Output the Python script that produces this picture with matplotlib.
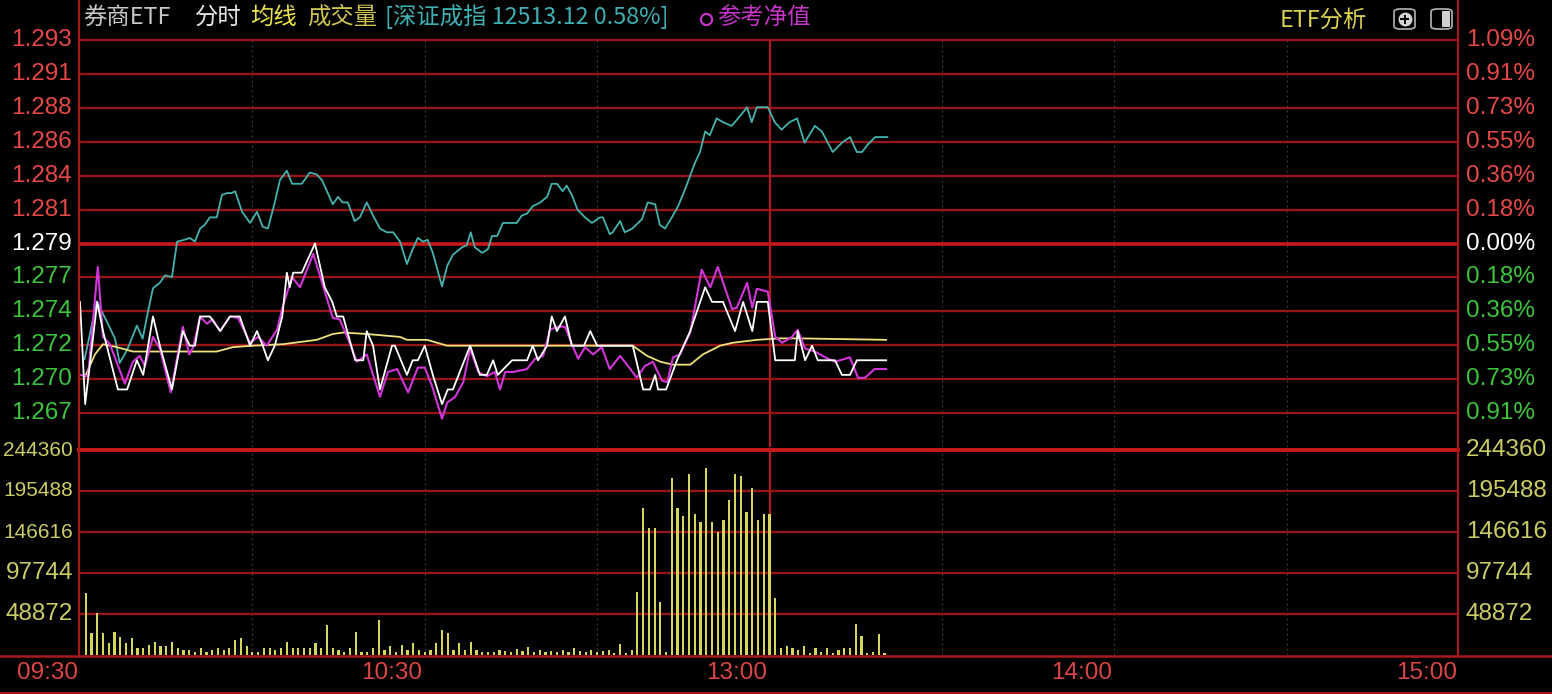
import matplotlib
matplotlib.use("Agg")
import matplotlib.pyplot as plt
from matplotlib.lines import Line2D
from matplotlib.patches import FancyBboxPatch, Rectangle
import matplotlib.transforms as mtrans

# ---------------- data ----------------
prev_close = 1.279
pct_max = 1.09

price_labels = ['1.293', '1.291', '1.288', '1.286', '1.284', '1.281', '1.279',
                '1.277', '1.274', '1.272', '1.270', '1.267']
pct_labels = ['1.09%', '0.91%', '0.73%', '0.55%', '0.36%', '0.18%', '0.00%',
              '0.18%', '0.36%', '0.55%', '0.73%', '0.91%']
vol_ticks = [244360, 195488, 146616, 97744, 48872]
vol_labels = ['244360', '195488', '146616', '97744', '48872']
time_ticks = [0, 60, 120, 180, 240]
time_labels = ['09:30', '10:30', '13:00', '14:00', '15:00']

# Shenzhen component index, % change (minute, pct)
index_points = [(0.8, -0.62), (2.9, -0.31), (4.7, -0.42), (6.1, -0.51), (6.9, -0.64), (8.2, -0.57),
    (9.9, -0.44), (10.9, -0.51), (11.8, -0.37), (12.7, -0.24), (13.9, -0.21), (14.8, -0.17),
    (16.0, -0.18), (16.9, 0.01), (18.2, 0.02), (19.1, 0.03), (20.0, 0.01), (20.9, 0.08),
    (21.7, 0.10), (22.6, 0.14), (23.8, 0.14), (24.7, 0.26), (25.6, 0.27), (26.4, 0.27),
    (27.0, 0.28), (28.2, 0.17), (29.6, 0.11), (30.8, 0.17), (31.8, 0.09), (32.7, 0.08),
    (33.9, 0.22), (34.8, 0.34), (36.0, 0.39), (36.9, 0.32), (38.6, 0.32), (40.0, 0.38),
    (41.2, 0.37), (42.1, 0.34), (44.0, 0.21), (44.9, 0.25), (45.7, 0.22), (46.6, 0.22),
    (47.8, 0.12), (48.7, 0.14), (49.9, 0.22), (51.0, 0.15), (52.2, 0.08), (53.4, 0.06),
    (54.5, 0.06), (55.7, 0.01), (56.9, -0.11), (57.9, -0.03), (58.8, 0.03), (59.7, 0.01),
    (60.5, 0.02), (61.4, -0.05), (63.0, -0.23), (63.9, -0.12), (64.9, -0.06), (66.5, -0.02),
    (67.3, -0.01), (68.0, 0.06), (68.7, -0.02), (70.0, -0.05), (71.0, -0.03), (71.7, 0.04),
    (72.6, 0.04), (73.6, 0.11), (76.0, 0.11), (76.9, 0.15), (77.8, 0.16), (78.8, 0.20),
    (80.1, 0.22), (81.3, 0.25), (82.1, 0.32), (83.0, 0.32), (84.0, 0.28), (84.7, 0.31),
    (85.6, 0.26), (86.6, 0.18), (87.9, 0.14), (89.1, 0.11), (90.5, 0.14), (91.0, 0.14),
    (92.2, 0.05), (92.7, 0.06), (94.0, 0.12), (94.8, 0.06), (96.1, 0.08), (97.8, 0.13),
    (98.8, 0.22), (100.1, 0.21), (100.9, 0.10), (101.8, 0.08), (103.0, 0.14), (104.1, 0.20),
    (105.3, 0.29), (107.0, 0.43), (107.9, 0.49), (108.8, 0.60), (109.6, 0.58), (110.8, 0.67),
    (111.9, 0.65), (113.4, 0.63), (114.8, 0.68), (116.1, 0.73), (116.9, 0.65), (117.8, 0.73),
    (119.2, 0.73), (119.7, 0.73), (120.9, 0.65), (122.1, 0.61), (123.5, 0.65), (124.8, 0.67),
    (126.1, 0.54), (127.9, 0.63), (129.1, 0.60), (131.0, 0.49), (132.6, 0.54), (134.0, 0.57),
    (135.2, 0.49), (136.1, 0.49), (137.1, 0.53), (138.4, 0.57), (139.6, 0.57), (140.5, 0.57)]

# ETF last price (minute, price)
price_points = [(0.0, 1.275), (0.9, 1.268), (3.0, 1.275), (4.0, 1.273), (6.6, 1.269), (8.2, 1.269),
    (9.9, 1.271), (11.0, 1.270), (12.7, 1.274), (13.9, 1.272), (16.0, 1.269), (17.9, 1.273),
    (19.1, 1.272), (20.0, 1.272), (20.9, 1.274), (22.6, 1.274), (24.4, 1.273), (26.1, 1.274),
    (27.8, 1.274), (29.6, 1.272), (30.8, 1.273), (31.8, 1.272), (32.7, 1.271), (33.9, 1.272),
    (35.2, 1.274), (36.0, 1.277), (36.5, 1.276), (37.1, 1.277), (38.6, 1.277), (40.9, 1.279),
    (42.6, 1.276), (43.9, 1.275), (44.7, 1.274), (45.8, 1.274), (47.9, 1.271), (49.3, 1.271),
    (49.9, 1.273), (51.0, 1.272), (52.2, 1.269), (54.3, 1.272), (54.8, 1.272), (56.9, 1.270),
    (57.9, 1.271), (58.8, 1.271), (60.0, 1.272), (61.4, 1.270), (63.0, 1.268), (64.0, 1.269),
    (64.9, 1.269), (67.9, 1.272), (69.6, 1.270), (70.8, 1.270), (71.9, 1.271), (72.7, 1.270),
    (75.2, 1.271), (77.8, 1.271), (78.8, 1.272), (79.7, 1.271), (81.3, 1.272), (82.1, 1.274),
    (83.0, 1.273), (84.4, 1.274), (85.6, 1.272), (87.7, 1.272), (88.8, 1.273), (90.0, 1.272),
    (96.2, 1.272), (98.0, 1.269), (99.2, 1.269), (100.1, 1.270), (100.6, 1.269), (102.0, 1.269),
    (103.9, 1.271), (106.2, 1.273), (108.8, 1.276), (110.0, 1.275), (111.9, 1.275), (114.0, 1.273),
    (115.4, 1.275), (117.0, 1.273), (117.8, 1.275), (119.7, 1.275), (121.0, 1.271), (124.4, 1.271),
    (124.9, 1.273), (126.2, 1.271), (127.4, 1.272), (128.4, 1.271), (131.4, 1.271), (132.6, 1.270),
    (134.0, 1.270), (135.2, 1.271), (140.3, 1.271)]

# reference NAV (IOPV) (minute, price)
nav_points = [(0.0, 1.2700), (1.4, 1.2699), (3.1, 1.2774), (4.0, 1.2726), (5.2, 1.2721), (7.8, 1.2694),
    (9.2, 1.2709), (10.4, 1.2713), (11.3, 1.2706), (12.7, 1.2726), (13.9, 1.2718), (15.8, 1.2688),
    (17.9, 1.2733), (19.0, 1.2714), (19.7, 1.2719), (20.9, 1.2740), (22.1, 1.2735), (23.1, 1.2738),
    (24.4, 1.2730), (26.1, 1.2740), (27.5, 1.2739), (29.6, 1.2722), (31.0, 1.2726), (32.5, 1.2720),
    (34.3, 1.2731), (35.3, 1.2747), (36.9, 1.2767), (38.3, 1.2760), (40.6, 1.2783), (42.6, 1.2757),
    (44.0, 1.2739), (45.2, 1.2738), (46.5, 1.2726), (48.2, 1.2709), (49.9, 1.2714), (52.2, 1.2685),
    (53.6, 1.2702), (55.2, 1.2704), (57.1, 1.2688), (58.8, 1.2705), (60.0, 1.2705), (61.3, 1.2692),
    (63.0, 1.2670), (63.9, 1.2681), (65.3, 1.2685), (66.7, 1.2695), (67.9, 1.2718), (69.3, 1.2702),
    (70.8, 1.2699), (72.2, 1.2702), (73.1, 1.2690), (74.0, 1.2702), (75.4, 1.2702), (77.8, 1.2704),
    (79.2, 1.2711), (80.6, 1.2713), (81.8, 1.2731), (83.2, 1.2733), (84.4, 1.2733), (85.6, 1.2721),
    (86.7, 1.2711), (87.9, 1.2719), (89.3, 1.2714), (90.8, 1.2719), (92.2, 1.2704), (94.0, 1.2713),
    (95.4, 1.2706), (96.9, 1.2698), (98.3, 1.2706), (99.7, 1.2709), (101.3, 1.2696), (102.2, 1.2695),
    (103.2, 1.2712), (104.4, 1.2714), (106.2, 1.2729), (108.2, 1.2772), (109.7, 1.2760), (111.0, 1.2774),
    (113.5, 1.2745), (114.3, 1.2746), (116.1, 1.2763), (117.0, 1.2746), (117.8, 1.2759), (119.7, 1.2757),
    (121.0, 1.2726), (122.2, 1.2722), (123.9, 1.2726), (124.9, 1.2731), (126.2, 1.2718), (127.9, 1.2716),
    (129.7, 1.2712), (131.4, 1.2709), (134.0, 1.2712), (135.4, 1.2698), (136.6, 1.2698), (138.3, 1.2704),
    (140.3, 1.2704)]

# average price (minute, price)
avg_points = [(0.9, 1.2699), (2.6, 1.2714), (4.0, 1.2721), (6.4, 1.2719), (9.2, 1.2716), (11.7, 1.2716),
    (15.7, 1.2716), (20.9, 1.2716), (23.8, 1.2716), (26.6, 1.2719), (30.1, 1.2720), (35.3, 1.2721),
    (41.2, 1.2724), (44.0, 1.2728), (45.8, 1.2729), (49.9, 1.2728), (55.7, 1.2726), (56.9, 1.2724),
    (60.4, 1.2724), (63.9, 1.2720), (67.4, 1.2720), (81.3, 1.2720), (96.2, 1.2720), (98.7, 1.2713),
    (101.0, 1.2709), (103.2, 1.2707), (106.2, 1.2707), (108.4, 1.2714), (111.4, 1.2720), (113.6, 1.2722),
    (117.8, 1.2724), (121.8, 1.2725), (125.3, 1.2725), (140.3, 1.2724)]

# volume per minute, minutes 1..140
volume = [74000, 26000, 50000, 26000, 14000, 27000, 21000, 14000, 20000, 8000,
          8000, 12000, 15000, 11000, 11000, 15000, 8000, 6000, 6000, 4000,
          8000, 4000, 6000, 8000, 6000, 8000, 18000, 20000, 11000, 4000,
          4000, 8000, 8000, 6000, 8000, 15000, 8000, 8000, 8000, 8000,
          14000, 8000, 36000, 8000, 6000, 4000, 8000, 27000, 4000, 4000,
          8000, 42000, 6000, 11000, 4000, 12000, 6000, 14000, 6000, 4000,
          6000, 14000, 30000, 26000, 6000, 14000, 6000, 15000, 6000, 4000,
          4000, 4000, 6000, 5000, 4000, 7000, 5000, 9000, 4000, 6000,
          4000, 5000, 3000, 6000, 4000, 8000, 5000, 4000, 6000, 3000,
          5000, 6000, 2000, 13000, 2000, 6000, 75000, 175000, 151000, 151000,
          63000, 4000, 211000, 175000, 166000, 216000, 168000, 159000, 223000, 159000,
          147000, 161000, 185000, 216000, 213000, 170000, 199000, 161000, 168000, 168000,
          68000, 8000, 11000, 8000, 6000, 11000, 2000, 8000, 4000, 8000,
          2000, 6000, 8000, 8000, 37000, 23000, 2000, 4000, 25000, 2000]

# ---------------- style ----------------
W, H = 1552, 694
LEFT, RIGHT, TOP, MID, VTOP, VBOT = 79, 1458, 40, 447, 450, 655
GRID = '#941616'
BRIGHT = '#c81a1a'
RED_T = '#e64848'
GREEN_T = '#3cc43c'
YEL_T = '#cccc66'
NUM_FONT = ['Liberation Sans', 'DejaVu Sans']
CJK_FONT = ['Noto Sans CJK SC', 'DejaVu Sans']
NUM_SIZE = 17.5


def fx(px):
    return px / W


def fy(py):
    return 1 - py / H


fig = plt.figure(figsize=(W / 100, H / 100), dpi=100, facecolor='black')

ax = fig.add_axes([fx(LEFT), fy(MID), fx(RIGHT) - fx(LEFT), fy(TOP) - fy(MID)])
axv = fig.add_axes([fx(LEFT), fy(VBOT), fx(RIGHT) - fx(LEFT), fy(VTOP) - fy(VBOT)])
x0 = (LEFT - 80) / 5.746
x1 = (RIGHT - 80) / 5.746
for a in (ax, axv):
    a.set_facecolor('black')
    a.set_xlim(x0, x1)
    for s in a.spines.values():
        s.set_visible(False)
    a.set_xticks([])
    a.set_yticks([])

ax.set_ylim(-pct_max, pct_max)
axv.set_ylim(0, vol_ticks[0])

step = pct_max / 6
levels = [pct_max - k * step for k in range(len(price_labels))]

# horizontal grid in price panel
for k, lv in enumerate(levels):
    if k == 6:
        ax.axhline(lv, color=BRIGHT, lw=2.6, zorder=1)
    else:
        ax.axhline(lv, color=GRID, lw=1.7, zorder=1, clip_on=False)

# volume grid
for k, v in enumerate(vol_ticks):
    if k == 0:
        axv.axhline(v, color=BRIGHT, lw=2.8, zorder=1, clip_on=False)
    else:
        axv.axhline(v, color=GRID, lw=1.7, zorder=1)

# dotted half-hour lines
for t in [30, 60, 90, 150, 180, 210]:
    for a in (ax, axv):
        a.axvline(t, color='#3c3c3c', lw=0.9, ls=(0, (1.5, 2.5)), zorder=0.5)
# 13:00 split line
for a in (ax, axv):
    a.axvline(120, color='#b41818', lw=1.6, zorder=1.5)


def unzip(points):
    return [p[0] for p in points], [p[1] for p in points]


def to_pct(prices):
    return [(p / prev_close - 1) * 100 for p in prices]


tx, ty = unzip(index_points)
ax.plot(tx, ty, color='#45b2ae', lw=1.3, zorder=3)
ax_x, ax_y = unzip(avg_points)
ax.plot(ax_x, to_pct(ax_y), color='#eee27c', lw=1.3, zorder=3)
nx, ny = unzip(nav_points)
ax.plot(nx, to_pct(ny), color='#d236d8', lw=1.5, zorder=4)
px, py = unzip(price_points)
ax.plot(px, to_pct(py), color='#ffffff', lw=1.3, zorder=5)

# volume bars
vx = list(range(1, len(volume) + 1))
axv.bar(vx, volume, width=0.38, color='#d6d65c', zorder=3)


def fline(xs, ys, color, lw, **kw):
    fig.add_artist(Line2D([fx(x) for x in xs], [fy(y) for y in ys], color=color, lw=lw,
                          transform=fig.transFigure, zorder=10, **kw))


fline([LEFT, LEFT], [0, VBOT], '#a81a1a', 1.6)
fline([RIGHT, RIGHT], [0, VBOT], '#a81a1a', 1.6)
fline([0, W], [VBOT + 1, VBOT + 1], '#a81a1a', 1.8)
fline([0, W], [H - 1.5, H - 1.5], '#a81a1a', 2.0)

# axis labels
trans_l = mtrans.blended_transform_factory(ax.transAxes, ax.transData)
for k, (lv, lab, plab) in enumerate(zip(levels, price_labels, pct_labels)):
    c = RED_T if k < 6 else ('#ffffff' if k == 6 else GREEN_T)
    ax.text((72 - LEFT) / (RIGHT - LEFT), lv, lab, transform=trans_l, ha='right', va='center',
            color=c, fontsize=NUM_SIZE, family=NUM_FONT)
    ax.text(1 + (1466 - RIGHT) / (RIGHT - LEFT), lv, plab, transform=trans_l, ha='left',
            va='center', color=c, fontsize=NUM_SIZE, family=NUM_FONT)

trans_v = mtrans.blended_transform_factory(axv.transAxes, axv.transData)
for v, lab in zip(vol_ticks, vol_labels):
    axv.text((73 - LEFT) / (RIGHT - LEFT), v, lab, transform=trans_v, ha='right', va='center',
             color=YEL_T, fontsize=15.0 if len(lab) > 5 else NUM_SIZE, family=NUM_FONT)
    axv.text(1 + (1466 - RIGHT) / (RIGHT - LEFT), v, lab, transform=trans_v, ha='left',
             va='center', color=YEL_T, fontsize=NUM_SIZE, family=NUM_FONT)

trans_t = mtrans.blended_transform_factory(axv.transData, fig.transFigure)
for t, lab in zip(time_ticks, time_labels):
    axv.text(t - 0.4, fy(673), lab, transform=trans_t, ha='right', va='center',
             color='#dc4646', fontsize=NUM_SIZE, family=NUM_FONT)

# header
HS = 16.8
header = [(83, '券商ETF', '#c8c8c8'), (195, '分时', '#e6e6e6'), (250, '均线', '#ece44a'),
          (307, '成交量', '#cfc452'), (385, '[深证成指 12513.12 0.58%]', '#3eb0b4'),
          (717, '参考净值', '#c634c8')]
for xpix, txt, col in header:
    fig.text(fx(xpix), fy(17), txt, ha='left', va='center', color=col, fontsize=HS,
             family=CJK_FONT)
fline([706], [19], 'none', 0, marker='o', markersize=8, markerfacecolor='none',
      markeredgecolor='#c634c8', markeredgewidth=1.6)
fig.text(fx(1280), fy(20), 'ETF分析', ha='left', va='center', color='#d8d050', fontsize=HS,
         family=CJK_FONT)

# header icons
b1 = FancyBboxPatch((fx(1394), fy(29)), fx(21), fy(9) - fy(29),
                    boxstyle='round,pad=0,rounding_size=0.004',
                    transform=fig.transFigure, fc='black', ec='#a8a8a8', lw=1.3)
fig.add_artist(b1)
fline([1404.5], [19], 'none', 0, marker='o', markersize=10, markerfacecolor='#d4d4d4',
      markeredgecolor='none')
fline([1401, 1408], [19, 19], 'black', 1.4)
fline([1404.5, 1404.5], [15.5, 22.5], 'black', 1.4)
b2 = FancyBboxPatch((fx(1431), fy(29)), fx(21), fy(9) - fy(29),
                    boxstyle='round,pad=0,rounding_size=0.004',
                    transform=fig.transFigure, fc='black', ec='#a8a8a8', lw=1.3)
fig.add_artist(b2)
fig.add_artist(Rectangle((fx(1442), fy(27)), fx(8), fy(11) - fy(27), transform=fig.transFigure,
                         fc='#d0d0d0', ec='none'))

fig.savefig('out.png', dpi=100, facecolor='black')
